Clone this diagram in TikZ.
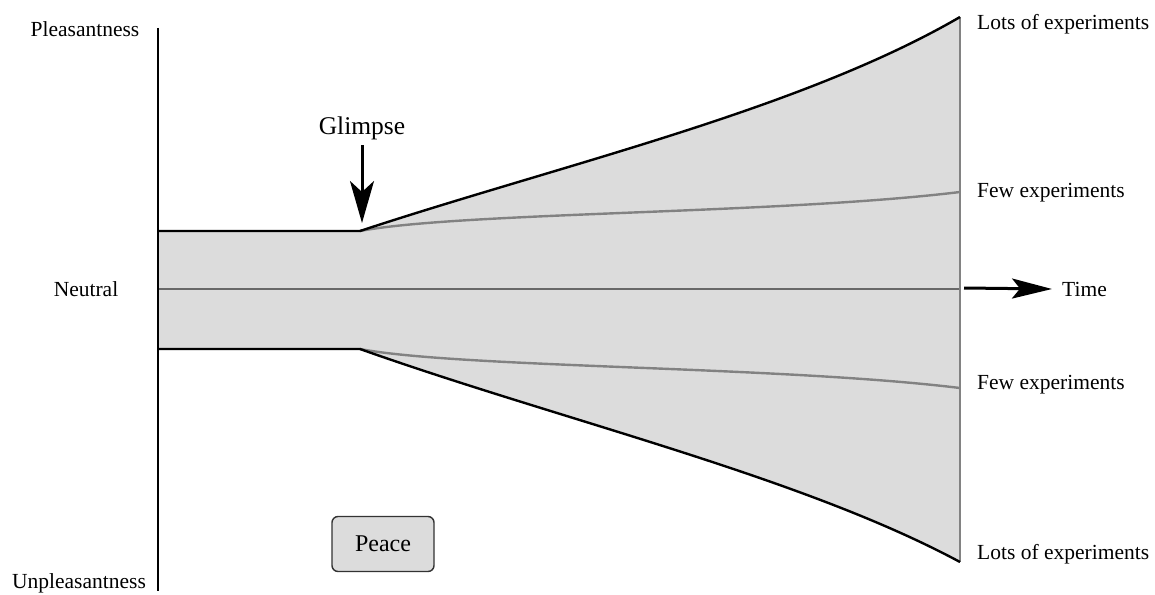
\documentclass[tikz,border=0pt]{standalone}
\usepackage{fontspec}
\setmainfont{Liberation Serif}
\usepackage{tikz}
\usetikzlibrary{arrows.meta,positioning}
\definecolor{BandGray}{RGB}{220,220,220}
\definecolor{LineGray}{RGB}{130,130,130}

\begin{document}
\begin{tikzpicture}[x=1pt, y=-1pt,
	lbl/.style={font=\fontsize{21.5}{25}\selectfont, inner sep=0pt},
	edge/.style={line width=2.4pt, black},
	inner/.style={line width=2.4pt, LineGray},
	bigarrow/.style={line width=3pt, -{Stealth[length=42pt, width=24pt, inset=11pt]}}]
	\useasboundingbox (0,0) rectangle (1155,594);

	% Trichter: Band, dann Auffaecherung
	\coordinate (ul) at (158,231);
	\coordinate (ll) at (158,349);
	\coordinate (glimpsept) at (360,231);
	\coordinate (lowpt) at (360,349);
	\coordinate (ru) at (960,17);
	\coordinate (rl) at (960,562);
	\fill[BandGray] (ul) -- (glimpsept) .. controls (560,165) and (800,110) .. (ru)
		-- (rl) .. controls (800,476) and (560,420) .. (lowpt) -- (ll) -- cycle;

	% innere Kurven
	\draw[inner] (glimpsept) .. controls (460,212) and (780,214) .. (960,192);
	\draw[inner] (lowpt) .. controls (460,368) and (780,366) .. (960,388);

	% Neutrallinie und rechter Rand
	\draw[line width=1.2pt, LineGray!80!black] (158,289) -- (960,289);
	\draw[line width=2.4pt, LineGray] (ru) -- (rl);

	% Raender
	\draw[edge] (ul) -- (glimpsept) .. controls (560,165) and (800,110) .. (ru);
	\draw[edge] (ll) -- (lowpt) .. controls (560,420) and (800,476) .. (rl);

	% Achse
	\draw[line width=2.2pt] (158,28) -- (158,591);

	% linke Beschriftung
	\node[lbl] (pleasant) at (85,29) {Pleasantness};
	\node[lbl] (neutral) at (86,289) {Neutral};
	\node[lbl] (unpleasant) at (79,583) {Unpleasantness};

	% rechte Beschriftung
	\node[lbl, anchor=west] (lotsup) at (977,24) {Lots of experiments};
	\node[lbl, anchor=west] (fewup) at (977,193) {Few experiments};
	\node[lbl, anchor=west] (fewlow) at (977,385) {Few experiments};
	\node[lbl, anchor=west] (lotslow) at (977,554) {Lots of experiments};

	% Glimpse
	\node[font=\fontsize{25.5}{30}\selectfont, inner sep=0pt, anchor=base] (glimpse) at (362,134) {Glimpse};
	\coordinate (glimpsetop) at (362,145);
	\draw[bigarrow] (glimpsetop) -- (362,223);

	% Zeit
	\coordinate (timestart) at (964,288);
	\node[lbl, anchor=west] (time) at (1062,289) {Time};
	\draw[line width=3pt, -{Stealth[length=40pt, width=20pt, inset=8pt]}] (timestart) -- (time.west -| 1052,0);

	% Peace
	\node[draw=black!80, line width=1.4pt, fill=BandGray, rounded corners=6pt,
		minimum width=102pt, minimum height=55pt,
		font=\fontsize{24}{28}\selectfont] (peace) at (383,544) {Peace};
\end{tikzpicture}
\end{document}
